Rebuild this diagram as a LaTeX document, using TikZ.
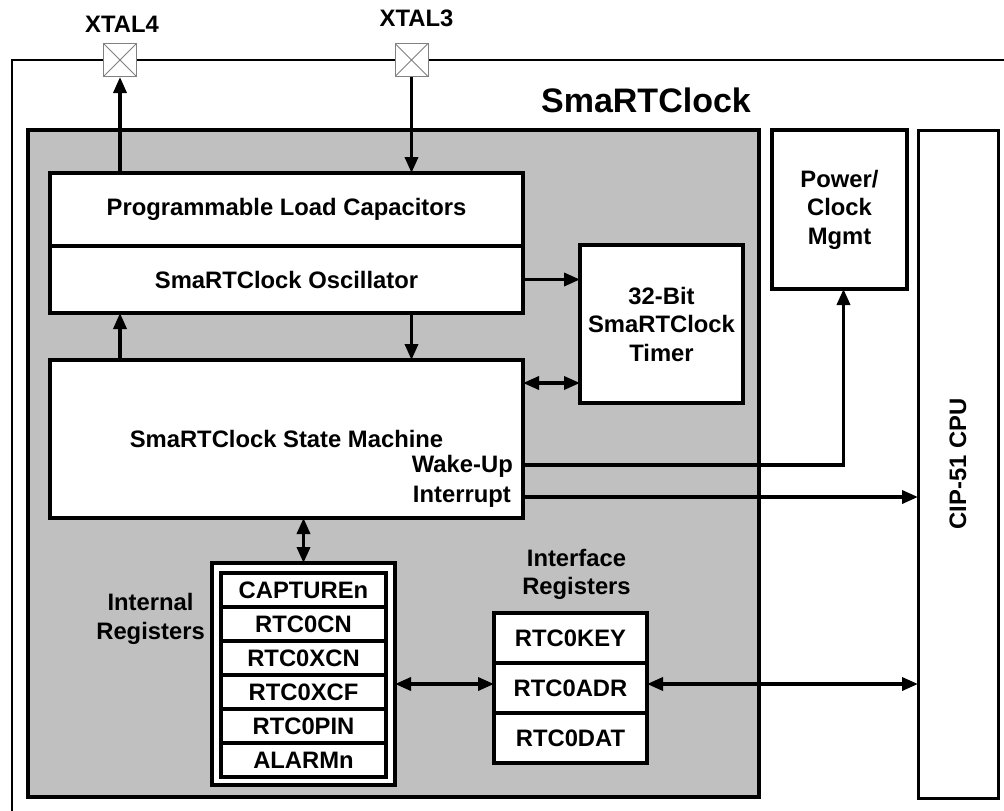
\documentclass[tikz,border=0pt]{standalone}
\usepackage{fontspec}
\setmainfont{Liberation Sans}
\usetikzlibrary{positioning,arrows.meta}
\definecolor{chipgray}{HTML}{C0C0C0}
\newcommand\lblfont{\fontsize{23.8}{28.5}\selectfont\bfseries}
\tikzset{
  block/.style={draw, line width=4pt, fill=white, inner sep=0pt, outer sep=0pt, align=center, font=\lblfont},
  regrow/.style={block, minimum width=165pt, minimum height=34pt},
  ifrow/.style={block, minimum width=153pt, minimum height=50pt},
  pad/.style={draw=gray, fill=white, line width=1pt, minimum size=33pt, inner sep=0pt,
              path picture={\draw[line width=0.8pt] (path picture bounding box.north west) -- (path picture bounding box.south east)
                            (path picture bounding box.south west) -- (path picture bounding box.north east);}},
  txt/.style={inner sep=0pt, font=\lblfont, align=center},
  sig/.style={line width=3.5pt, -{Triangle[length=16pt,width=13pt]}},
  bisig/.style={line width=3.5pt, {Triangle[length=16pt,width=13pt]}-{Triangle[length=16pt,width=13pt]}},
}

\begin{document}
\begin{tikzpicture}[x=1pt, y=-1pt]
  \useasboundingbox (0,0) rectangle (1004,811);

  % chip outline and crystal pins
  \draw[line width=2pt] (12,811) -- (12,60) -- (1004,60);
  \node[pad] (pad4) at (120,60) {};
  \node[pad] (pad3) at (411.5,60) {};
  \node[txt, above=10pt of pad4, xshift=2pt] (xtal4) {XTAL4};
  \node[txt, above=16pt of pad3, xshift=5pt] (xtal3) {XTAL3};

  % SmaRTClock block
  \node[draw, line width=3.5pt, fill=chipgray, minimum width=731pt, minimum height=667pt, outer sep=0pt] (clk) at (393.5,463.5) {};
  \node[txt, font=\fontsize{34}{40}\selectfont\bfseries] (title) at (646,100) {SmaRTClock};

  \node[block, minimum width=473pt, minimum height=73pt] (plc) at (286.5,209.5) {Programmable Load Capacitors};
  \node[block, minimum width=473pt, minimum height=67pt] (osc) at (286.5,279.5) {SmaRTClock Oscillator};
  \node[block, minimum width=473pt, minimum height=158pt] (sm) at (286.5,439) {SmaRTClock State Machine};
  \node[block, minimum width=163pt, minimum height=158pt] (timer) at (661.5,324) {32-Bit\\SmaRTClock\\Timer};
  \node[block, minimum width=135pt, minimum height=159pt] (pwr) at (839.5,209.5) {Power/\\Clock\\Mgmt};
  \node[block, line width=3pt, minimum width=80pt, minimum height=668pt] (cpu) at (958,464) {};
  \node[txt, rotate=90] (cpulbl) at (cpu.center) {CIP-51 CPU};

  % internal registers
  \node[block, minimum width=183pt, minimum height=222pt] (intreg) at (303.5,674) {};
  \node[regrow] (ir1) at (303.5,590) {CAPTUREn};
  \node[regrow, below=0pt of ir1] (ir2) {RTC0CN};
  \node[regrow, below=0pt of ir2] (ir3) {RTC0XCN};
  \node[regrow, below=0pt of ir3] (ir4) {RTC0XCF};
  \node[regrow, below=0pt of ir4] (ir5) {RTC0PIN};
  \node[regrow, below=0pt of ir5] (ir6) {ALARMn};
  \node[txt, left=7pt of intreg.west, anchor=east, yshift=55pt] (irlbl) {Internal\\Registers};

  % interface registers
  \node[ifrow] (key) at (570.5,638) {RTC0KEY};
  \node[ifrow, below=0pt of key] (adr) {RTC0ADR};
  \node[ifrow, below=0pt of adr] (dat) {RTC0DAT};
  \node[txt, above=13pt of key, xshift=6pt] (iflbl) {Interface\\Registers};

  % state machine outputs
  \coordinate (wk) at ([yshift=-26pt]sm.east);
  \coordinate (ir) at ([yshift=-58pt]sm.east);
  \coordinate (tm) at ([yshift=-59pt]timer.west);
  \node[txt, anchor=base east] (wake) at ([xshift=-10pt,yshift=-33pt]sm.east) {Wake-Up};
  \node[txt, anchor=base east] (intr) at ([xshift=-12pt,yshift=-63pt]sm.east) {Interrupt};

  \draw[sig] (plc.north -| pad4.south) -- (pad4.south);
  \draw[sig] (pad3.south) -- (pad3.south |- plc.north);
  \draw[sig] (sm.north -| pad4) -- (osc.south -| pad4);
  \draw[sig] (osc.south -| pad3) -- (sm.north -| pad3);
  \draw[sig] (osc.east) -- (osc.east -| timer.west);
  \draw[bisig] (sm.east |- tm) -- (tm);
  \draw[sig] (wk) -| ([xshift=4pt]pwr.south);
  \draw[sig] (ir) -- (ir -| cpu.west);
  \draw[bisig] (sm.south -| intreg.north) -- (intreg.north);
  \draw[bisig] ([yshift=4pt]adr.west -| intreg.east) -- ([yshift=4pt]adr.west);
  \draw[bisig] ([yshift=4pt]adr.east) -- ([yshift=4pt]adr.east -| cpu.west);
\end{tikzpicture}
\end{document}
